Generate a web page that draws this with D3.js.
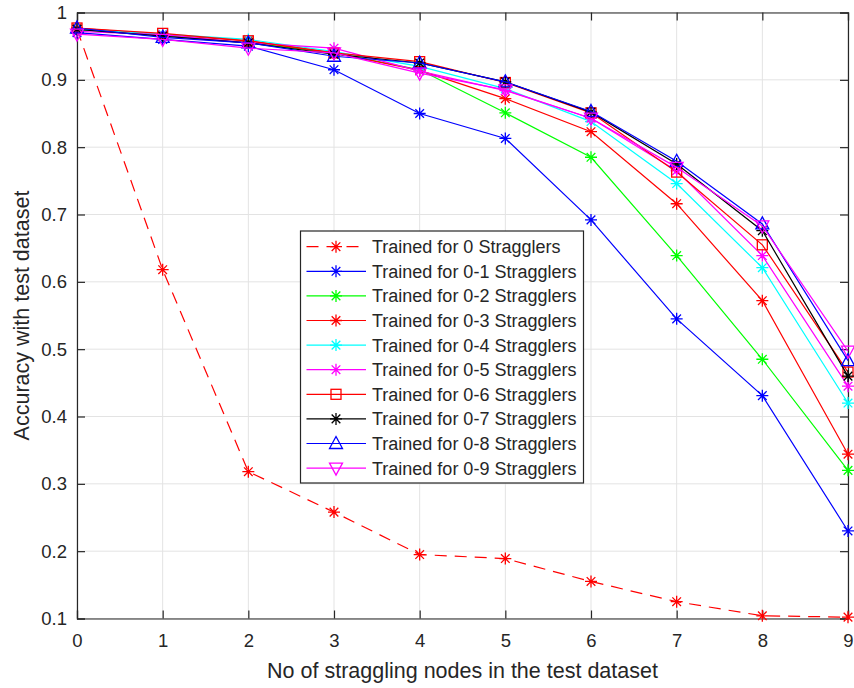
<!DOCTYPE html>
<html><head><meta charset="utf-8">
<script src="https://cdn.jsdelivr.net/npm/d3@7"></script>
<style>body{margin:0;background:#fff}</style>
</head><body>
<svg id="c" width="854" height="688"></svg>
<script>
const xValues = [0,1,2,3,4,5,6,7,8,9];
const xTicks = [0,1,2,3,4,5,6,7,8,9];
const yTicks = [0.1,0.2,0.3,0.4,0.5,0.6,0.7,0.8,0.9,1];
const seriesNames = ["Trained for 0 Stragglers","Trained for 0-1 Stragglers","Trained for 0-2 Stragglers","Trained for 0-3 Stragglers","Trained for 0-4 Stragglers","Trained for 0-5 Stragglers","Trained for 0-6 Stragglers","Trained for 0-7 Stragglers","Trained for 0-8 Stragglers","Trained for 0-9 Stragglers"];
const seriesColors = ["#ff0000","#0000ff","#00ff00","#ff0000","#00ffff","#ff00ff","#ff0000","#000000","#0000ff","#ff00ff"];
const seriesMarkers = ["star","star","star","star","star","star","square","star","triUp","triDown"];
const seriesDashed = [true,false,false,false,false,false,false,false,false,false];
const s0 = [0.975,0.618,0.318,0.258,0.195,0.189,0.155,0.125,0.104,0.102];
const s1 = [0.970,0.960,0.950,0.915,0.850,0.813,0.692,0.545,0.431,0.230];
const s2 = [0.975,0.966,0.955,0.940,0.915,0.851,0.785,0.639,0.485,0.320];
const s3 = [0.977,0.967,0.958,0.940,0.914,0.872,0.823,0.716,0.572,0.344];
const s4 = [0.975,0.968,0.960,0.942,0.920,0.887,0.838,0.746,0.621,0.420];
const s5 = [0.972,0.967,0.955,0.947,0.913,0.884,0.843,0.765,0.639,0.445];
const s6 = [0.977,0.969,0.958,0.940,0.927,0.896,0.851,0.763,0.655,0.466];
const s7 = [0.975,0.965,0.955,0.938,0.925,0.897,0.852,0.775,0.676,0.460];
const s8 = [0.977,0.963,0.955,0.935,0.925,0.897,0.853,0.779,0.686,0.483];
const s9 = [0.968,0.960,0.947,0.940,0.910,0.885,0.843,0.770,0.683,0.497];
const allSeries = [s0,s1,s2,s3,s4,s5,s6,s7,s8,s9];

const svg = d3.select("#c");
const L = 77, R = 848, T = 12.5, B = 618.5;
const x = d3.scaleLinear().domain([0,9]).range([L,R]);
const y = d3.scaleLinear().domain([0.1,1]).range([B,T]);
const font = "'Liberation Sans', Arial, sans-serif";
const axisCol = "#262626";

// grid
const g = svg.append("g");
g.selectAll(".vg").data(xTicks).enter().append("line")
  .attr("x1",d=>x(d)).attr("x2",d=>x(d)).attr("y1",T).attr("y2",B)
  .attr("stroke","#e3e3e3").attr("stroke-width",1);
g.selectAll(".hg").data(yTicks).enter().append("line")
  .attr("y1",d=>y(d)).attr("y2",d=>y(d)).attr("x1",L).attr("x2",R)
  .attr("stroke","#e3e3e3").attr("stroke-width",1);

// axes via d3 axis (inward ticks)
const tl = 8;
const fmt = d => d===1 ? "1" : d3.format(".1f")(d);
const ax = [
  svg.append("g").attr("transform",`translate(0,${B})`).call(d3.axisBottom(x).tickValues(xTicks).tickSize(-tl).tickPadding(15).tickFormat(d3.format("d"))),
  svg.append("g").attr("transform",`translate(0,${T})`).call(d3.axisTop(x).tickValues(xTicks).tickSize(-tl).tickFormat("")),
  svg.append("g").attr("transform",`translate(${L},0)`).call(d3.axisLeft(y).tickValues(yTicks).tickSize(-tl).tickPadding(10).tickFormat(fmt)),
  svg.append("g").attr("transform",`translate(${R},0)`).call(d3.axisRight(y).tickValues(yTicks).tickSize(-tl).tickFormat(""))
];
ax.forEach(a=>{
  a.select(".domain").attr("stroke",axisCol).attr("stroke-width",1.2);
  a.selectAll(".tick line").attr("stroke",axisCol).attr("stroke-width",1.2);
  a.selectAll("text").attr("fill",axisCol).style("font-family",font).style("font-size","18.5px");
});

// marker drawing
function drawMarker(sel, type, color, cx, cy){
  const gm = sel.append("g").attr("transform",`translate(${cx},${cy})`);
  if(type==="star"){
    const r=6, d=r*0.72;
    const p=`M${-r},0L${r},0M0,${-r}L0,${r}M${-d},${-d}L${d},${d}M${-d},${d}L${d},${-d}`;
    gm.append("path").attr("d",p).attr("stroke",color).attr("stroke-width",1.3).attr("fill","none");
  } else if(type==="square"){
    gm.append("rect").attr("x",-5).attr("y",-5).attr("width",10).attr("height",10)
      .attr("stroke",color).attr("stroke-width",1.3).attr("fill","none");
  } else if(type==="triUp"){
    gm.append("path").attr("d","M0,-7L6.5,5L-6.5,5Z").attr("stroke",color).attr("stroke-width",1.3).attr("fill","none");
  } else if(type==="triDown"){
    gm.append("path").attr("d","M0,7L6.5,-5L-6.5,-5Z").attr("stroke",color).attr("stroke-width",1.3).attr("fill","none");
  }
}

const line = d3.line().x((d,i)=>x(xValues[i])).y(d=>y(d));
const plot = svg.append("g");
allSeries.forEach((s,k)=>{
  plot.append("path").datum(s).attr("d",line).attr("fill","none")
    .attr("stroke",seriesColors[k]).attr("stroke-width",1.2)
    .attr("stroke-dasharray",seriesDashed[k]?"12,8":null);
  s.forEach((v,i)=>drawMarker(plot,seriesMarkers[k],seriesColors[k],x(xValues[i]),y(v)));
});

// legend
const lx=300.5, ly=231, lw=283, lh=252, rowH=24.6;
const leg = svg.append("g");
leg.append("rect").attr("x",lx).attr("y",ly).attr("width",lw).attr("height",lh)
  .attr("fill","#fff").attr("stroke",axisCol).attr("stroke-width",1.2);
seriesNames.forEach((n,k)=>{
  const ry = ly + 15.7 + k*rowH;
  leg.append("line").attr("x1",306.5).attr("x2",366).attr("y1",ry).attr("y2",ry)
    .attr("stroke",seriesColors[k]).attr("stroke-width",1.2)
    .attr("stroke-dasharray",seriesDashed[k]?"12,8":null);
  drawMarker(leg,seriesMarkers[k],seriesColors[k],336,ry);
  leg.append("text").attr("x",372).attr("y",ry).attr("dy","0.36em")
    .style("font-family",font).style("font-size","18px").attr("fill",axisCol).text(n);
});

// axis labels
svg.append("text").attr("x",(L+R)/2).attr("y",670).attr("text-anchor","middle").attr("dy","0.35em")
  .style("font-family",font).style("font-size","21.5px").attr("fill",axisCol)
  .text("No of straggling nodes in the test dataset");
svg.append("text").attr("transform",`translate(21,${(T+B)/2}) rotate(-90)`).attr("text-anchor","middle").attr("dy","0.35em")
  .style("font-family",font).style("font-size","21.5px").attr("fill",axisCol)
  .text("Accuracy with test dataset");
</script>
</body></html>
